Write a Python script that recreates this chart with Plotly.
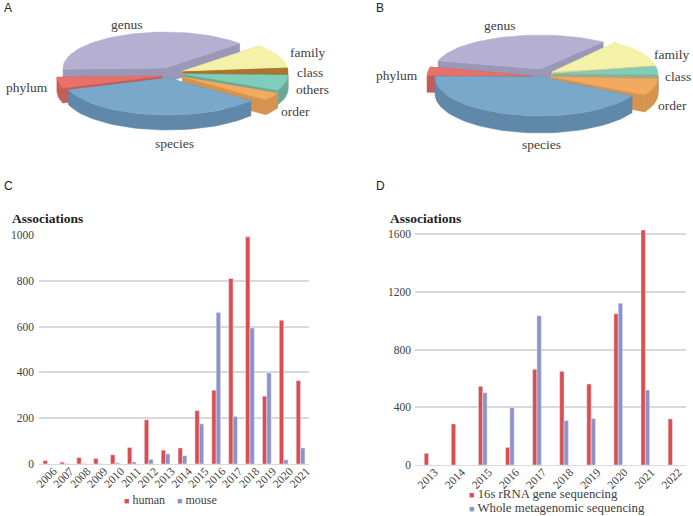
import math

import plotly.graph_objects as go

# pie shares, degrees of the full circle, clockwise from the start angle
PIE_A_NAMES = ["family", "class", "others", "order", "species", "phylum", "genus"]
PIE_A_SHARES = [37, 8, 24, 12, 123, 17, 139]
PIE_B_NAMES = ["family", "class", "others", "order", "species", "phylum", "genus"]
PIE_B_SHARES = [42, 12, 2, 26, 152, 13, 113]

YEARS_C = ["2006", "2007", "2008", "2009", "2010", "2011", "2012", "2013",
           "2014", "2015", "2016", "2017", "2018", "2019", "2020", "2021"]
HUMAN = [15, 8, 28, 24, 40, 72, 193, 60, 70, 233, 322, 810, 992, 296, 628, 364]
MOUSE = [0, 1, 1, 1, 5, 9, 20, 44, 36, 175, 662, 208, 594, 398, 18, 70]

YEARS_D = ["2013", "2014", "2015", "2016", "2017", "2018", "2019", "2020", "2021", "2022"]
RRNA = [81, 284, 545, 122, 663, 649, 561, 1048, 1628, 319]
WHOLE = [0, 0, 501, 397, 1034, 307, 321, 1120, 519, 0]

WIDTH = 693
HEIGHT = 516
PIE_STRIP = 175
SERIF = "Liberation Serif"
TEXT_COLOR = "#404040"
RED = "#dc4d50"
BLUE = "#8d93c8"
GRID = "#d9d9d9"

# top colour, wall colour
SLICE_COLORS = {
    "genus": ("#b5b0d2", "#9b97b6"),
    "family": ("#f4f1a8", "#d3d08f"),
    "class": ("#a9752f", "#a9752f"),
    "others": ("#7fcdbb", "#6ca898"),
    "order": ("#f2aa60", "#d4934e"),
    "species": ("#7aa8cb", "#6088a8"),
    "phylum": ("#e8716a", "#c55c56"),
}
SLICE_COLORS_B = dict(SLICE_COLORS)
SLICE_COLORS_B["class"] = SLICE_COLORS["others"]
SLICE_COLORS_B["others"] = ("#a3a88a", "#a3a88a")

# back to front
DRAW_ORDER = ["genus", "family", "phylum", "class", "others", "order", "species"]

# apex x, apex y, rx, ry of each exploded slice in page pixels
GEOMETRY_A = {
    "genus": (165, 68, 102, 36), "family": (183, 71, 105, 37), "class": (183, 72, 105, 37),
    "others": (183, 74, 105, 37), "order": (183, 77, 105, 37), "species": (168, 78, 105, 37),
    "phylum": (162, 76, 105, 37),
}
GEOMETRY_B = {
    "genus": (540, 69, 105, 34), "family": (552, 72, 105, 37), "class": (553, 74, 105, 37),
    "others": (553, 75, 105, 37), "order": (553, 77, 105, 37), "species": (540, 77, 105, 39),
    "phylum": (532, 76, 105, 37),
}


def arc_points(geometry, start, sweep):
    cx, cy, rx, ry = geometry
    steps = max(2, int(sweep / 3))
    points = []
    for i in range(steps + 1):
        t = math.radians(start - sweep * i / steps)
        points.append((cx + rx * math.cos(t), cy - ry * math.sin(t), math.sin(t)))
    return points


def add_polygon(fig, points, color, name=None):
    fig.add_trace(go.Scatter(
        x=[p[0] for p in points] + [points[0][0]],
        y=[p[1] for p in points] + [points[0][1]],
        xaxis="x3", yaxis="y3", mode="lines", fill="toself", fillcolor=color,
        line=dict(color=color, width=0.5), showlegend=False,
        name=name, hoverinfo="name" if name else "skip",
    ))


def add_pie(fig, names, shares, colors, geometries, start, depth):
    angles = {}
    angle = start
    for name, share in zip(names, shares):
        angles[name] = (angle, share)
        angle -= share

    for name in DRAW_ORDER:
        a, share = angles[name]
        top, wall = colors[name]
        geometry = geometries[name]
        apex = (geometry[0], geometry[1])
        arc = arc_points(geometry, a, share)

        # radial walls, then the front part of the rim
        for end in (arc[0], arc[-1]):
            add_polygon(fig, [apex, end[:2], (end[0], end[1] + depth), (apex[0], apex[1] + depth)], wall)
        front = [p for p in arc if p[2] <= 0]
        if len(front) > 1:
            rim = [p[:2] for p in front] + [(p[0], p[1] + depth) for p in reversed(front)]
            add_polygon(fig, rim, wall)

        add_polygon(fig, [apex] + [p[:2] for p in arc], top, name=name)


def label(text, x, y, size=13.5, color=TEXT_COLOR, family=SERIF, anchor="center"):
    return dict(
        text=text, x=x / WIDTH, y=1 - y / HEIGHT, xref="paper", yref="paper", showarrow=False,
        xanchor=anchor, yanchor="middle", font=dict(family=family, size=size, color=color),
    )


def legend_entry(text, color, x, y, size):
    square = '<span style="color:{0};font-size:9px">■</span> '.format(color)
    return label(square + text, x, y, size=size, anchor="left")


fig = go.Figure()

add_pie(fig, PIE_A_NAMES, PIE_A_SHARES, SLICE_COLORS, GEOMETRY_A, 43, 15)
add_pie(fig, PIE_B_NAMES, PIE_B_SHARES, SLICE_COLORS_B, GEOMETRY_B, 53, 17)

fig.add_trace(go.Bar(x=YEARS_C, y=HUMAN, name="human", marker_color=RED, xaxis="x", yaxis="y",
                     showlegend=False, width=0.26, offset=-0.26))
fig.add_trace(go.Bar(x=YEARS_C, y=MOUSE, name="mouse", marker_color=BLUE, xaxis="x", yaxis="y",
                     showlegend=False, width=0.26, offset=0))
fig.add_trace(go.Bar(x=YEARS_D, y=RRNA, name="16s rRNA gene sequencing", marker_color=RED,
                     xaxis="x2", yaxis="y2", showlegend=False, width=0.16, offset=-0.16))
fig.add_trace(go.Bar(x=YEARS_D, y=WHOLE, name="Whole metagenomic sequencing", marker_color=BLUE,
                     xaxis="x2", yaxis="y2", showlegend=False, width=0.16, offset=0))

annotations = [
    label("A", 8, 8, size=12, color="#222222", family="Liberation Sans"),
    label("B", 380, 8, size=12, color="#222222", family="Liberation Sans"),
    label("C", 8, 186, size=12, color="#222222", family="Liberation Sans"),
    label("D", 380, 186, size=12, color="#222222", family="Liberation Sans"),
    label("<b>Associations</b>", 10, 218, size=13.5, color="#222222", anchor="left"),
    label("<b>Associations</b>", 388, 218, size=13.5, color="#222222", anchor="left"),
    label("genus", 127, 25),
    label("family", 307, 53),
    label("class", 310, 72),
    label("others", 312, 90),
    label("order", 295, 112),
    label("species", 174, 143),
    label("phylum", 27, 88),
    label("genus", 500, 26),
    label("family", 671, 55),
    label("class", 678, 76),
    label("order", 672, 105),
    label("species", 541, 144),
    label("phylum", 397, 75),
    legend_entry("human", RED, 122, 500, 12),
    legend_entry("mouse", BLUE, 175, 500, 12),
    legend_entry("16s rRNA gene sequencing", RED, 467, 494, 12.8),
    legend_entry("Whole metagenomic sequencing", BLUE, 467, 508, 12.8),
]
fig.update_layout(annotations=annotations)

tick_font = dict(family=SERIF, size=11.5, color=TEXT_COLOR)
fig.update_layout(
    width=WIDTH,
    height=HEIGHT,
    margin=dict(l=0, r=0, t=0, b=0, pad=0),
    paper_bgcolor="white",
    plot_bgcolor="white",
    showlegend=False,
    xaxis=dict(domain=[39 / WIDTH, 309 / WIDTH], anchor="y", tickangle=-45, tickfont=tick_font,
               showline=True, linecolor=GRID, linewidth=1, ticks="", showgrid=False,
               type="category", automargin=False, ticklabelshift=6, ticklabelstandoff=-5),
    yaxis=dict(domain=[1 - 464 / HEIGHT, 1 - 235 / HEIGHT], anchor="x", range=[0, 1000],
               tickvals=[0, 200, 400, 600, 800, 1000], tickfont=tick_font,
               gridcolor=GRID, gridwidth=1.5, zeroline=False, ticks="", automargin=False,
               ticklabelstandoff=4),
    xaxis2=dict(domain=[415 / WIDTH, 686 / WIDTH], anchor="y2", tickangle=-45, tickfont=tick_font,
                showline=True, linecolor=GRID, linewidth=1, ticks="", showgrid=False,
                type="category", automargin=False, ticklabelshift=6, ticklabelstandoff=-5),
    yaxis2=dict(domain=[1 - 465 / HEIGHT, 1 - 230 / HEIGHT], anchor="x2", range=[0, 1628],
                tickvals=[0, 400, 800, 1200, 1600], tickfont=tick_font,
                gridcolor=GRID, gridwidth=1.5, zeroline=False, ticks="", automargin=False,
                ticklabelstandoff=3),
    xaxis3=dict(domain=[0, 1], anchor="y3", range=[0, WIDTH], visible=False, fixedrange=True,
                automargin=False),
    yaxis3=dict(domain=[1 - PIE_STRIP / HEIGHT, 1], anchor="x3", range=[PIE_STRIP, 0], visible=False,
                fixedrange=True, automargin=False),
)

fig.write_html("out.html", config=dict(displayModeBar=False),
               post_script="document.body.style.margin = '0';")
